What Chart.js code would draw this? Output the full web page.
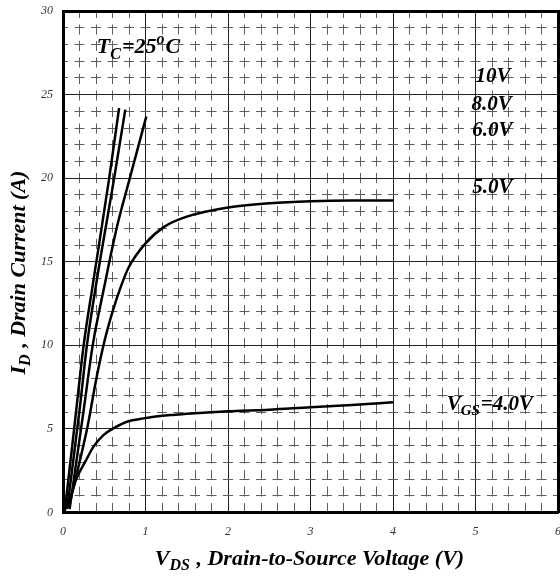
<!DOCTYPE html>
<html>
<head>
<meta charset="utf-8">
<script src="https://cdn.jsdelivr.net/npm/chart.js@4"></script>
<style>
  html, body { margin: 0; padding: 0; background: #fff; }
  #wrap { width: 560px; height: 576px; }
</style>
</head>
<body>
<div id="wrap"><canvas id="chartIV" width="560" height="576"></canvas></div>
<script>
// output characteristics
const v10 = [0.02, 0.16, 0.25, 0.37, 0.56, 0.68];
const i10 = [0.0, 6.1, 10.0, 13.9, 20.0, 24.2];

const v8 = [0.05, 0.2, 0.29, 0.41, 0.62, 0.755];
const i8 = [0.2, 6.1, 10.0, 13.9, 20.0, 24.1];

const v6 = [0.08, 0.25, 0.36, 0.5, 0.65, 0.81, 1.01];
const i6 = [0.2, 6.1, 10.0, 13.5, 17.0, 20.0, 23.7];

const v5 = [0.07, 0.2, 0.3, 0.4, 0.5, 0.6, 0.7, 0.8, 1.0, 1.23, 1.5, 2.0, 2.5, 3.0, 3.5, 4.0];
const i5 = [0.3, 3.0, 5.2, 7.9, 10.2, 12.0, 13.5, 14.7, 16.1, 17.1, 17.7, 18.25, 18.5, 18.62, 18.66, 18.66];

const v4 = [0.03, 0.09, 0.165, 0.27, 0.37, 0.49, 0.61, 0.775, 0.975, 1.3, 1.5, 2.0, 2.5, 3.0, 3.5, 4.0];
const i4 = [0.35, 0.95, 2.05, 3.04, 3.94, 4.63, 5.03, 5.43, 5.63, 5.83, 5.9, 6.05, 6.15, 6.3, 6.43, 6.6];

const xTicks = [0, 1, 2, 3, 4, 5, 6];
const yTicks = [0, 5, 10, 15, 20, 25, 30];

const curveNames = ["10V", "8.0V", "6.0V", "5.0V", "4.0V"];

const toPts = (xs, ys) => xs.map((x, k) => ({ x: x, y: ys[k] }));
const curves = [toPts(v10, i10), toPts(v8, i8), toPts(v6, i6), toPts(v5, i5), toPts(v4, i4)];

const SERIF = '"Liberation Serif", "Times New Roman", serif';
const onStep = (v, step) => Math.abs(v / step - Math.round(v / step)) < 1e-6;

// rich text: [text, kind] with kind "" / "sub" / "sup"
const SUB = 0.72;
function richWidth(ctx, parts, size) {
  let w = 0;
  parts.forEach(([t, k]) => {
    ctx.font = "italic bold " + (k ? Math.round(size * SUB) : size) + "px " + SERIF;
    w += ctx.measureText(t).width;
  });
  return w;
}
function drawRich(ctx, parts, x, y, size) {
  parts.forEach(([t, k]) => {
    const s = k ? Math.round(size * SUB) : size;
    ctx.font = "italic bold " + s + "px " + SERIF;
    let dy = 0;
    if (k === "sub") dy = size * 0.3;
    if (k === "sup") dy = -size * 0.36;
    ctx.fillText(t, x, y + dy);
    x += ctx.measureText(t).width + (k ? 1 : 0);
  });
}

const labelPlugin = {
  id: "labels",
  afterDatasetsDraw(chart) {
    const { ctx, scales } = chart;
    const px = (v) => scales.x.getPixelForValue(v);
    const py = (v) => scales.y.getPixelForValue(v);
    ctx.save();
    ctx.fillStyle = "#000";
    ctx.textBaseline = "middle";
    ctx.textAlign = "left";
    const sz = 21;
    drawRich(ctx, [[curveNames[0], ""]], px(5.0), py(26.1), sz);
    drawRich(ctx, [[curveNames[1], ""]], px(4.95), py(24.4), sz);
    drawRich(ctx, [[curveNames[2], ""]], px(4.96), py(22.85), sz);
    drawRich(ctx, [[curveNames[3], ""]], px(4.96), py(19.45), sz);
    drawRich(ctx, [["V", ""], ["GS", "sub"], ["=" + curveNames[4], ""]], px(4.65), py(6.45), sz);
    drawRich(ctx, [["T", ""], ["C", "sub"], ["=25", ""], ["o", "sup"], ["C", ""]], px(0.41), py(27.8), 22);

    // axis titles
    const tz = 22;
    const xt = [["V", ""], ["DS", "sub"], [" , Drain-to-Source Voltage (V)", ""]];
    const xw = richWidth(ctx, xt, tz);
    drawRich(ctx, xt, 309 - xw / 2, 559, tz);
    const yt = [["I", ""], ["D", "sub"], [" , Drain Current (A)", ""]];
    const yw = richWidth(ctx, yt, tz);
    ctx.translate(19, 273);
    ctx.rotate(-Math.PI / 2);
    drawRich(ctx, yt, -yw / 2, 0, tz);
    ctx.restore();
  },
};

const tickFont = { family: SERIF, size: 12, style: "italic" };

new Chart(document.getElementById("chartIV"), {
  type: "scatter",
  data: {
    datasets: curves.map((pts, k) => ({
      label: curveNames[k],
      data: pts,
      showLine: true,
      borderColor: "#000",
      borderWidth: 2.5,
      pointRadius: 0,
      cubicInterpolationMode: "monotone",
      xAxisID: "x",
      yAxisID: "y",
    })),
  },
  options: {
    responsive: false,
    animation: false,
    layout: { padding: 0 },
    plugins: { legend: { display: false }, tooltip: { enabled: false } },
    scales: {
      x: {
        type: "linear", position: "bottom", min: 0, max: 6,
        afterBuildTicks: (s) => { s.ticks = xTicks.map((v) => ({ value: v })); },
        afterFit: (s) => { s.height = 63.5; s.paddingLeft = 0; s.paddingRight = 0; },
        ticks: { font: tickFont, color: "#333", padding: 12 },
        grid: { color: "#222", lineWidth: 1, drawTicks: false },
        border: { width: 3, color: "#000" },
      },
      x2: {
        type: "linear", position: "top", min: 0, max: 6,
        ticks: { display: false, stepSize: 0.2 },
        afterFit: (s) => { s.height = 11; s.paddingLeft = 0; s.paddingRight = 0; },
        grid: {
          drawTicks: false, lineWidth: 1,
          color: (c) => (c.tick && onStep(c.tick.value, 1) ? "transparent" : "#5e5e5e"),
        },
        border: { width: 3, color: "#000", dash: [10, 6.5], dashOffset: 5 },
      },
      y: {
        type: "linear", position: "left", min: 0, max: 30,
        afterBuildTicks: (s) => { s.ticks = yTicks.map((v) => ({ value: v })); },
        afterFit: (s) => { s.width = 63; s.paddingTop = 0; s.paddingBottom = 0; },
        ticks: { font: tickFont, color: "#333", padding: 10 },
        grid: { color: "#222", lineWidth: 1, drawTicks: false },
        border: { width: 3, color: "#000" },
      },
      y2: {
        type: "linear", position: "right", min: 0, max: 30,
        ticks: { display: false, stepSize: 1 },
        afterFit: (s) => { s.width = 2; s.paddingTop = 0; s.paddingBottom = 0; },
        grid: {
          drawTicks: false, lineWidth: 1,
          color: (c) => (c.tick && onStep(c.tick.value, 5) ? "transparent" : "#5e5e5e"),
        },
        border: { width: 3, color: "#000", dash: [10, 6.5], dashOffset: 5 },
      },
    },
  },
  plugins: [labelPlugin],
});
</script>
</body>
</html>
